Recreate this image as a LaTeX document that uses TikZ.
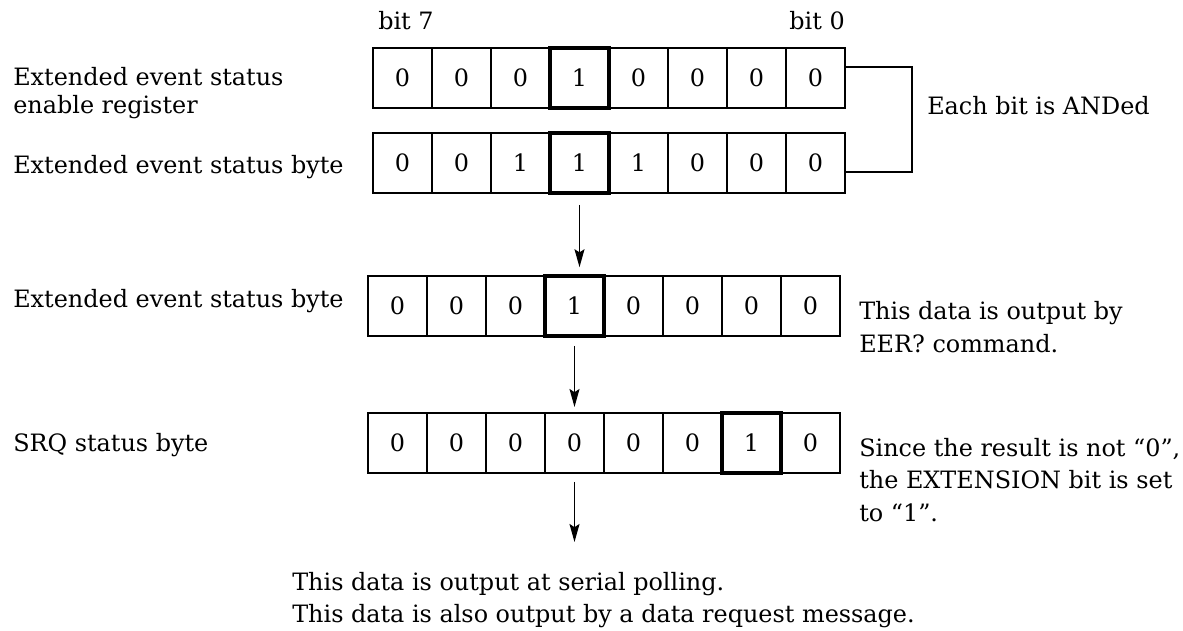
\documentclass[tikz,border=0pt]{standalone}
\usepackage{fontspec}
\setmainfont{DejaVu Serif}
\usetikzlibrary{arrows.meta,positioning}

\begin{document}
\begin{tikzpicture}[
  font=\fontsize{17}{20}\selectfont,
  cell/.style={rectangle, draw=black, line width=1pt, minimum width=1.475cm, minimum height=1.5cm, inner sep=0pt, outer sep=0pt},
  setbit/.style={cell, line width=2.8pt},
  lbl/.style={inner sep=0pt, align=left},
  note/.style={inner sep=0pt, align=left, font=\fontsize{17}{23}\selectfont},
  arrow/.style={-{Stealth[length=0.45cm, width=0.25cm, inset=0.08cm]}, line width=1pt},
  node distance=0pt
]
\useasboundingbox (0,0) rectangle (29.575,-15.775);

\node[lbl, anchor=base west] (bitseven) at (9.45,-0.75) {bit 7};
\node[lbl, anchor=base east] (bitzero) at (21.125,-0.75) {bit 0};

\node[lbl, anchor=west] (enablelbl) at (0.325,-2.33) {Extended event status\\enable register};
\node[cell, anchor=west] (a1) at (9.325,-1.95) {0};
\node[cell, right=of a1] (a2) {0};
\node[cell, right=of a2] (a3) {0};
\node[setbit, right=of a3] (a4) {1};
\node[cell, right=of a4] (a5) {0};
\node[cell, right=of a5] (a6) {0};
\node[cell, right=of a6] (a7) {0};
\node[cell, right=of a7] (a8) {0};

\node[lbl, anchor=base west] (statuslbl) at (0.325,-4.35) {Extended event status byte};
\node[cell, anchor=west] (b1) at (9.325,-4.075) {0};
\node[cell, right=of b1] (b2) {0};
\node[cell, right=of b2] (b3) {1};
\node[setbit, right=of b3] (b4) {1};
\node[cell, right=of b4] (b5) {1};
\node[cell, right=of b5] (b6) {0};
\node[cell, right=of b6] (b7) {0};
\node[cell, right=of b7] (b8) {0};

\coordinate (andtop) at (22.8,-1.675);
\coordinate (andbot) at (22.8,-4.3);
\draw[line width=1pt] ([yshift=0.275cm]a8.east) -- (andtop) -- (andbot) -- ([yshift=-0.225cm]b8.east);
\node[lbl, anchor=base west] (andlbl) at (23.175,-2.875) {Each bit is ANDed};

\node[lbl, anchor=base west] (resultlbl) at (0.325,-7.7) {Extended event status byte};
\node[cell, anchor=west] (c1) at (9.2,-7.65) {0};
\node[cell, right=of c1] (c2) {0};
\node[cell, right=of c2] (c3) {0};
\node[setbit, right=of c3] (c4) {1};
\node[cell, right=of c4] (c5) {0};
\node[cell, right=of c5] (c6) {0};
\node[cell, right=of c6] (c7) {0};
\node[cell, right=of c7] (c8) {0};
\node[note, anchor=west] (eernote) at (21.475,-8.175) {This data is output by\\EER? command.};

\node[lbl, anchor=base west] (srqlbl) at (0.325,-11.3) {SRQ status byte};
\node[cell, anchor=west] (d1) at (9.2,-11.075) {0};
\node[cell, right=of d1] (d2) {0};
\node[cell, right=of d2] (d3) {0};
\node[cell, right=of d3] (d4) {0};
\node[cell, right=of d4] (d5) {0};
\node[cell, right=of d5] (d6) {0};
\node[setbit, right=of d6] (d7) {1};
\node[cell, right=of d7] (d8) {0};
\node[note, anchor=west] (extnote) at (21.475,-12.0) {Since the result is not “0”,\\the EXTENSION bit is set\\to “1”.};

\coordinate (srqout) at (14.45,-13.55);
\node[note, anchor=west] (pollnote) at (7.3,-15.0) {This data is output at serial polling.\\This data is also output by a data request message.};

\draw[arrow, shorten <=0.3cm, shorten >=0.22cm] (b4.south) -- (b4.south |- c4.north);
\draw[arrow, shorten <=0.25cm, shorten >=0.15cm] (c4.south) -- (c4.south |- d4.north);
\draw[arrow, shorten <=0.22cm] (d4.south) -- (d4.south |- srqout);

\end{tikzpicture}
\end{document}
